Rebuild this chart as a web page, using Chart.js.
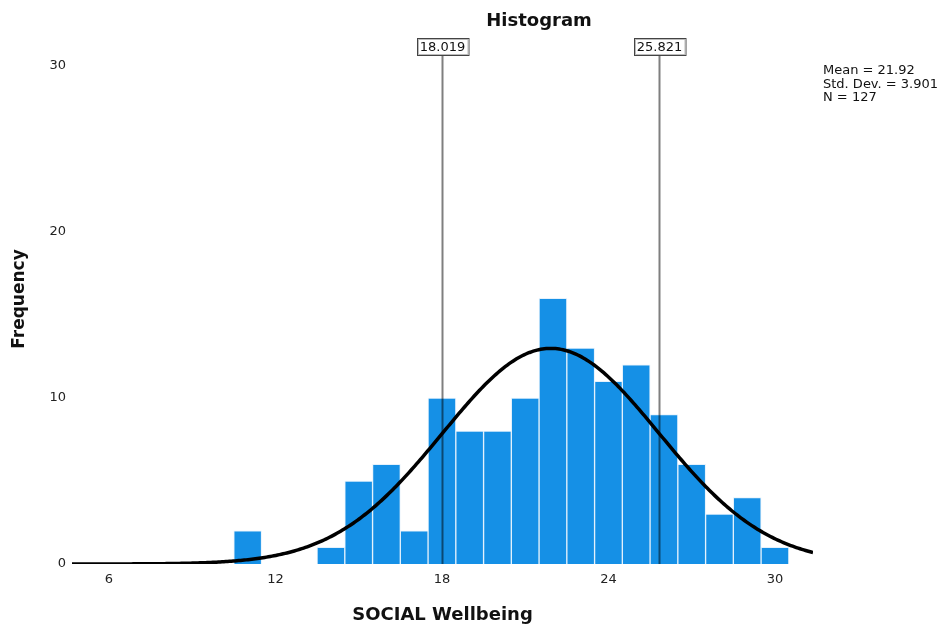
<!DOCTYPE html>
<html>
<head>
<meta charset="utf-8">
<title>Histogram – SOCIAL Wellbeing</title>
<script src="https://cdn.jsdelivr.net/npm/chart.js@4/dist/chart.umd.min.js"></script>
<style>
  html, body { margin: 0; padding: 0; background: #fff; }
  #wrap { width: 947px; height: 630px; }
</style>
</head>
<body>
<div id="wrap"><canvas id="chart" width="947" height="630"></canvas></div>
<script>
// Bin centres (width 1) and their frequencies
const binCenters = [11, 14, 15, 16, 17, 18, 19, 20, 21, 22, 23, 24, 25, 26, 27, 28, 29, 30];
const frequencies = [2, 1, 5, 6, 2, 10, 8, 8, 10, 16, 13, 11, 12, 9, 6, 3, 4, 1];

// Summary statistics shown in the legend
const MEAN = 21.92;
const SD = 3.901;
const N = 127;
const BIN_WIDTH = 1;

// Reference lines at mean ± 1 SD
const refLines = [18.019, 25.821];

// Axis ticks
const xTicks = [6, 12, 18, 24, 30];
const yTicks = [0, 10, 20, 30];
const X_MIN = 4.67, X_MAX = 31.37;

const FONT = '"DejaVu Sans", "Liberation Sans", sans-serif';

// Fitted normal curve scaled to counts per bin
function normalCurve() {
  const pts = [];
  const k = N * BIN_WIDTH / (SD * Math.sqrt(2 * Math.PI));
  for (let i = 0; i <= 400; i++) {
    const x = X_MIN + (X_MAX - X_MIN) * i / 400;
    const z = (x - MEAN) / SD;
    pts.push({ x, y: k * Math.exp(-0.5 * z * z) });
  }
  return pts;
}

const overlay = {
  id: 'overlay',
  afterDatasetDraw(chart, args) {
    if (args.index !== 0) return;
    const { ctx, chartArea, scales } = chart;
    ctx.save();
    ctx.strokeStyle = 'rgba(0,0,0,0.5)';
    ctx.lineWidth = 2;
    refLines.forEach(v => {
      const px = Math.round(scales.x.getPixelForValue(v)) + 0.5;
      ctx.beginPath();
      ctx.moveTo(px, 56);
      ctx.lineTo(px, chartArea.bottom);
      ctx.stroke();
    });
    ctx.restore();
  },
  afterDraw(chart) {
    const { ctx, chartArea, scales } = chart;
    ctx.save();
    // Reference line labels in boxes
    ctx.font = '13px ' + FONT;
    ctx.textAlign = 'center';
    ctx.textBaseline = 'middle';
    refLines.forEach(v => {
      const px = Math.round(scales.x.getPixelForValue(v)) + 0.5;
      const label = v.toFixed(3);
      const w = ctx.measureText(label).width + 6;
      const x0 = Math.round(px - w / 2) + 0.5, y0 = 38.5, h = 17;
      ctx.fillStyle = '#fff';
      ctx.fillRect(x0, y0, w, h);
      ctx.strokeStyle = '#444';
      ctx.lineWidth = 1;
      ctx.strokeRect(x0, y0, w, h);
      ctx.strokeStyle = '#bbb';
      ctx.strokeRect(x0 + 1, y0 + 1, w - 2, h - 2);
      ctx.fillStyle = '#111';
      ctx.fillText(label, px, y0 + h / 2 + 0.5);
    });

    // Title
    ctx.fillStyle = '#111';
    ctx.font = 'bold 18px ' + FONT;
    ctx.fillText('Histogram', 539, 21);

    // X axis title
    ctx.font = 'bold 18px ' + FONT;
    ctx.fillText('SOCIAL Wellbeing', (chartArea.left + chartArea.right) / 2, 615);

    // Y axis title
    ctx.font = 'bold 17px ' + FONT;
    ctx.save();
    ctx.translate(20, 299);
    ctx.rotate(-Math.PI / 2);
    ctx.fillText('Frequency', 0, 0);
    ctx.restore();

    // Statistics legend
    ctx.font = '13px ' + FONT;
    ctx.textAlign = 'left';
    ctx.fillStyle = '#111';
    ['Mean = ' + MEAN.toFixed(2), 'Std. Dev. = ' + SD.toFixed(3), 'N = ' + N]
      .forEach((t, i) => ctx.fillText(t, 823, 71 + i * 13.5));
    ctx.restore();
  }
};

new Chart(document.getElementById('chart'), {
  data: {
    datasets: [
      {
        type: 'bar',
        data: binCenters.map((c, i) => ({ x: c, y: frequencies[i] })),
        backgroundColor: '#1590e6',
        borderColor: 'rgba(225,240,252,0.9)',
        borderWidth: 1,
        barPercentage: 1,
        categoryPercentage: 1,
        order: 2
      },
      {
        type: 'line',
        data: normalCurve(),
        borderColor: '#000',
        borderWidth: 3.5,
        pointRadius: 0,
        tension: 0,
        fill: false,
        order: 1
      }
    ]
  },
  options: {
    responsive: false,
    animation: false,
    events: [],
    layout: { padding: { left: 0, top: 66, right: 134, bottom: 0 } },
    plugins: { legend: { display: false }, tooltip: { enabled: false }, title: { display: false } },
    scales: {
      x: {
        type: 'linear',
        offset: false,
        min: X_MIN,
        max: X_MAX,
        grid: { display: false, drawTicks: false },
        border: { display: false },
        afterBuildTicks: s => { s.ticks = xTicks.map(v => ({ value: v })); },
        afterFit: s => { s.height = 66; },
        ticks: { padding: 8, color: '#222', font: { family: FONT, size: 13 }, maxRotation: 0 }
      },
      y: {
        type: 'linear',
        min: 0,
        max: 30,
        grid: { display: false, drawTicks: false },
        border: { display: false },
        afterBuildTicks: s => { s.ticks = yTicks.map(v => ({ value: v })); },
        afterFit: s => { s.width = 72; },
        ticks: { padding: 6, color: '#222', font: { family: FONT, size: 13 } }
      }
    }
  },
  plugins: [overlay]
});
</script>
</body>
</html>
